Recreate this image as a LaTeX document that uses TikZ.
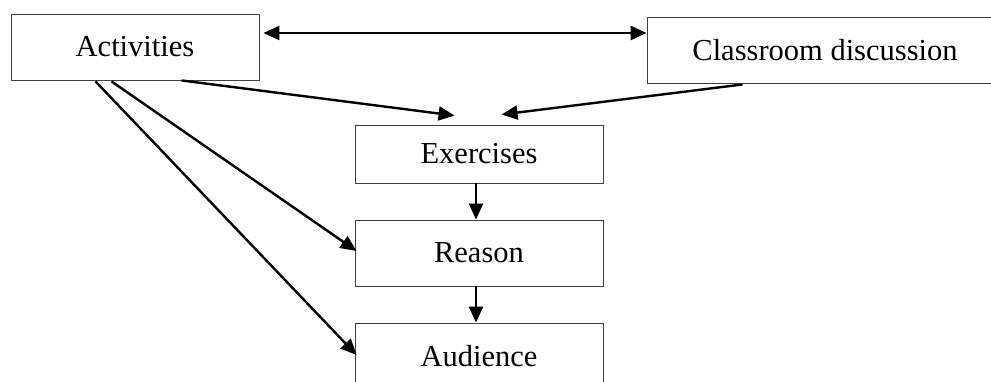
\documentclass[tikz,border=0pt]{standalone}
\usepackage{fontspec}
\setmainfont{Liberation Serif}
\usetikzlibrary{arrows.meta}
\begin{document}
\begin{tikzpicture}[x=1pt,y=-1pt,
  box/.style={draw=black!75,line width=0.9pt,fill=white,inner sep=0pt,
    font=\fontsize{30.5}{36}\selectfont},
  tip/.style={Triangle[length=16pt,width=14pt]},
  conn/.style={line width=2.4pt,-{Triangle[length=16pt,width=14pt]}}]
\useasboundingbox (0,0) rectangle (991,382);
\node[box,minimum width=248pt,minimum height=66pt] (act) at (135,47) {Activities};
\node[box,minimum width=356pt,minimum height=66pt] (cls) at (825,50) {Classroom discussion};
\node[box,minimum width=248pt,minimum height=58pt] (exe) at (479,154) {Exercises};
\node[box,minimum width=248pt,minimum height=66pt] (rea) at (479,253) {Reason};
\node[box,minimum width=248pt,minimum height=66pt] (aud) at (479,356) {Audience};
\draw[line width=2.4pt,{Triangle[length=16pt,width=14pt]}-{Triangle[length=16pt,width=14pt]}]
  ([xshift=4pt,yshift=14pt]act.east) -- ([yshift=17pt]cls.west);
\draw[conn] ([xshift=171pt]act.south west) -- ([xshift=100pt,yshift=9pt]exe.north west);
\draw[conn] ([xshift=96pt,yshift=-1pt]cls.south west) -- ([xshift=147pt,yshift=10pt]exe.north west);
\draw[conn] ([xshift=-3pt]exe.south) -- ([xshift=-3pt]rea.north);
\draw[conn] ([xshift=-3pt]rea.south) -- ([xshift=-3pt]aud.north);
\draw[conn] ([xshift=101pt,yshift=-1pt]act.south west) -- ([xshift=2pt,yshift=2pt]rea.west);
\draw[conn] ([xshift=85pt,yshift=-1pt]act.south west) -- ([xshift=2pt,yshift=1pt]aud.west);
\end{tikzpicture}
\end{document}
